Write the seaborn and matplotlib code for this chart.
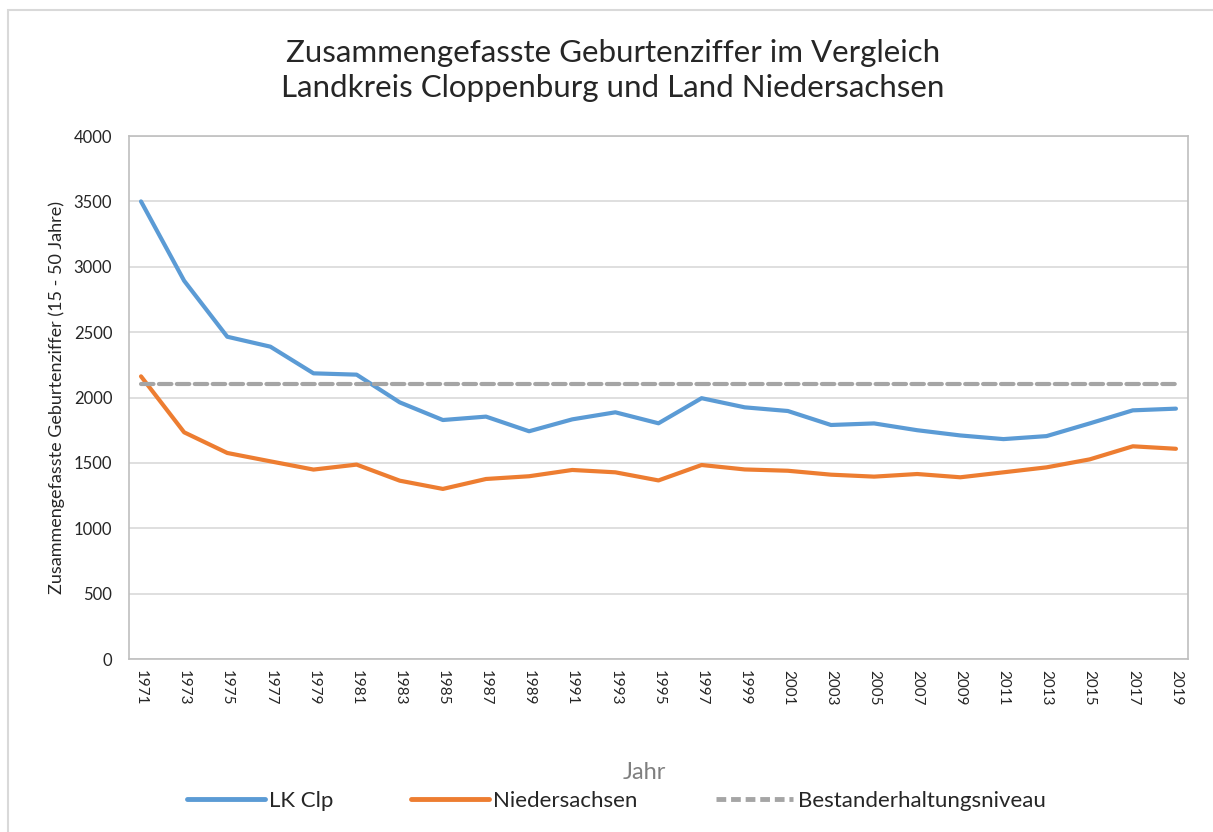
import pandas as pd
import matplotlib.pyplot as plt
import seaborn as sns
from matplotlib.patches import Rectangle
from matplotlib.lines import Line2D

# Data
jahre = list(range(1971, 2020, 2))
lk_clp = [3500, 2893, 2465, 2389, 2185, 2175, 1963, 1828, 1854, 1742, 1833, 1887, 1803,
          1995, 1925, 1897, 1790, 1802, 1750, 1710, 1682, 1705, 1802, 1902, 1915]
niedersachsen = [2162, 1734, 1576, 1512, 1449, 1487, 1364, 1301, 1377, 1398, 1446, 1428, 1366,
                 1484, 1450, 1440, 1410, 1395, 1415, 1390, 1428, 1466, 1527, 1627, 1608]
bestand = [2100] * len(jahre)
serien = ["LK Clp", "Niedersachsen", "Bestanderhaltungsniveau"]
farben = ["#5B9BD5", "#ED7D31", "#A5A5A5"]

df = pd.DataFrame({
    "Jahr": jahre * 3,
    "Wert": lk_clp + niedersachsen + bestand,
    "Serie": [serien[0]] * len(jahre) + [serien[1]] * len(jahre) + [serien[2]] * len(jahre),
})

sns.set_style("white")
plt.rcParams['font.family'] = ['Lato', 'DejaVu Sans']

fig = plt.figure(figsize=(12.13, 8.32), dpi=100)
ax = fig.add_axes([0.1063, 0.2079, 0.8731, 0.6286])

sns.lineplot(data=df, x="Jahr", y="Wert", hue="Serie", style="Serie",
             palette=dict(zip(serien, farben)),
             dashes={serien[0]: "", serien[1]: "", serien[2]: (3, 1.3)},
             linewidth=3, ax=ax, legend=False)
for l in ax.lines:
    l.set_solid_capstyle("round")
    l.set_dash_capstyle("round")

ax.set_xlim(1971 - 0.56, 2019 + 0.56)
ax.set_ylim(0, 4000)
ax.set_yticks(range(0, 4001, 500))
ax.set_xticks(jahre)
ax.set_xticklabels([str(j) for j in jahre], rotation=-90, fontsize=11, color="#262626")
ax.tick_params(axis="y", labelsize=12, colors="#262626", length=0, pad=12)
ax.tick_params(axis="x", length=0, pad=8)
ax.yaxis.grid(True, color="#D9D9D9", linewidth=1.2)
ax.set_axisbelow(True)
for s in ax.spines.values():
    s.set_color("#BFBFBF")
    s.set_linewidth(1.2)

ax.set_ylabel("Zusammengefasste Geburtenziffer (15 - 50 Jahre)", fontsize=13, color="#262626", labelpad=6)
ax.set_xlabel("")
fig.text(0.531, 0.072, "Jahr", ha="center", va="center", fontsize=17, color="#7F7F7F")

fig.text(0.505, 0.915, "Zusammengefasste Geburtenziffer im Vergleich\nLandkreis Cloppenburg und Land Niedersachsen",
         ha="center", va="center", fontsize=22.5, color="#262626", linespacing=1.3)

# legend
handles = [Line2D([], [], color=farben[0], linewidth=3.5),
           Line2D([], [], color=farben[1], linewidth=3.5),
           Line2D([], [], color=farben[2], linewidth=3.5, linestyle=(0, (2, 1)))]
fig.legend(handles, serien, loc="center", bbox_to_anchor=(0.508, 0.037), ncol=3,
           frameon=False, fontsize=16, handlelength=3.5, handletextpad=0.2, columnspacing=3.5)

fig.patches.append(Rectangle((0.007, -0.01), 1.1, 0.998, transform=fig.transFigure,
                             fill=False, edgecolor="#D9D9D9", linewidth=1.5))

plt.savefig("out.png", dpi=100)
